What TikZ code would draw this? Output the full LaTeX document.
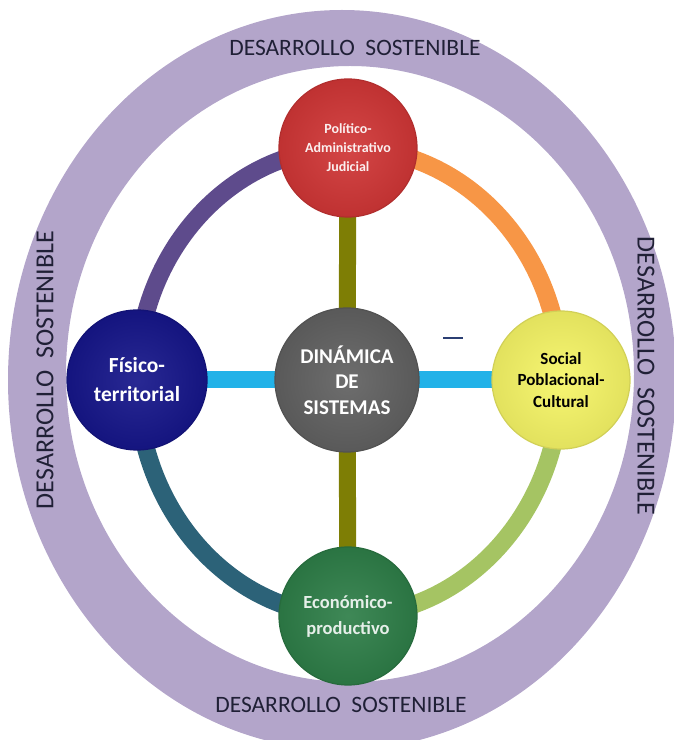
\documentclass[tikz,border=0pt]{standalone}
\usepackage{fontspec}
\setmainfont{Carlito}
\usepackage{tikz}
\usetikzlibrary{backgrounds}

\definecolor{lavanda}{HTML}{B3A5CA}
\definecolor{tinta}{HTML}{202036}
\definecolor{rojo}{HTML}{D03636}
\definecolor{gris}{HTML}{616161}
\definecolor{marino}{HTML}{16168A}
\definecolor{amarillo}{HTML}{F6F566}
\definecolor{verde}{HTML}{2E7E48}
\definecolor{morado}{HTML}{5E4B8C}
\definecolor{naranja}{HTML}{F79646}
\definecolor{pasto}{HTML}{A5C463}
\definecolor{petroleo}{HTML}{2C6278}
\definecolor{oliva}{HTML}{7E7E05}
\definecolor{celeste}{HTML}{22B2E8}
\definecolor{raya}{HTML}{2B3F73}

\begin{document}
\begin{tikzpicture}[x=1pt,y=1pt,
  esfera/.style={circle, inner sep=0pt, minimum size=138pt, align=center,
    draw=#1!85!black, line width=1.2pt, inner color=#1!92!white, outer color=#1!92!black},
  rotulo/.style={font=\fontsize{23.5}{26}\selectfont, text=tinta},
  lateral/.style={font=\fontsize{26}{28}\selectfont, text=tinta},
  radio/.style={line width=17pt},
  arco/.style={line width=18pt}]
\useasboundingbox (0,0) rectangle (673,740);
\clip (0,0) rectangle (673,740);

% circulos
\node[esfera=gris, minimum size=144pt, text=white, font=\bfseries\fontsize{21}{25.5}\selectfont] (din) at (347,360) {DINÁMICA\\DE\\SISTEMAS};
\node[esfera=rojo, text=white!92!rojo, font=\bfseries\fontsize{14}{19}\selectfont] (pol) at (348,592) {Político-\\Administrativo\\Judicial};
\node[esfera=marino, minimum size=140pt, text=white, font=\bfseries\fontsize{21.5}{29}\selectfont] (fis) at (137,360) {Físico-\\territorial};
\node[esfera=amarillo, text=black, font=\bfseries\fontsize{17}{21.5}\selectfont] (soc) at (561,360) {Social\\Poblacional-\\Cultural};
\node[esfera=verde, text=white!88!verde, font=\bfseries\fontsize{18.5}{26}\selectfont] (eco) at (348,124) {Económico-\\productivo};

% anillo exterior
\node[rotulo] (arriba) at (355,692) {DESARROLLO\ \ SOSTENIBLE};
\node[rotulo] (abajo) at (341,35) {DESARROLLO\ \ SOSTENIBLE};
\node[lateral, rotate=90] (izq) at (45,370) {DESARROLLO\ \ SOSTENIBLE};
\node[lateral, rotate=-90] (der) at (646,364) {DESARROLLO\ \ SOSTENIBLE};

\draw[raya, line width=2.5pt] (443,402) -- (463,402);

\begin{pgfonlayer}{background}
\fill[lavanda, even odd rule] (342,360) ellipse[x radius=334, y radius=370]
  (350,366) ellipse[x radius=284, y radius=308];
\draw[arco, morado] (pol.center) arc[start angle=90, end angle=180, x radius=211, y radius=232];
\draw[arco, petroleo] (fis.center) arc[start angle=180, end angle=270, x radius=211, y radius=236];
\draw[arco, pasto] (eco.center) arc[start angle=270, end angle=360, x radius=213, y radius=236];
\draw[arco, naranja] (soc.center) arc[start angle=0, end angle=90, x radius=213, y radius=232];
\draw[radio, oliva] (din.center) -- (pol.center);
\draw[radio, oliva] (din.center) -- (eco.center);
\draw[radio, celeste] (din.center) -- (fis.center);
\draw[radio, celeste] (din.center) -- (soc.center);
\end{pgfonlayer}
\end{tikzpicture}
\end{document}
